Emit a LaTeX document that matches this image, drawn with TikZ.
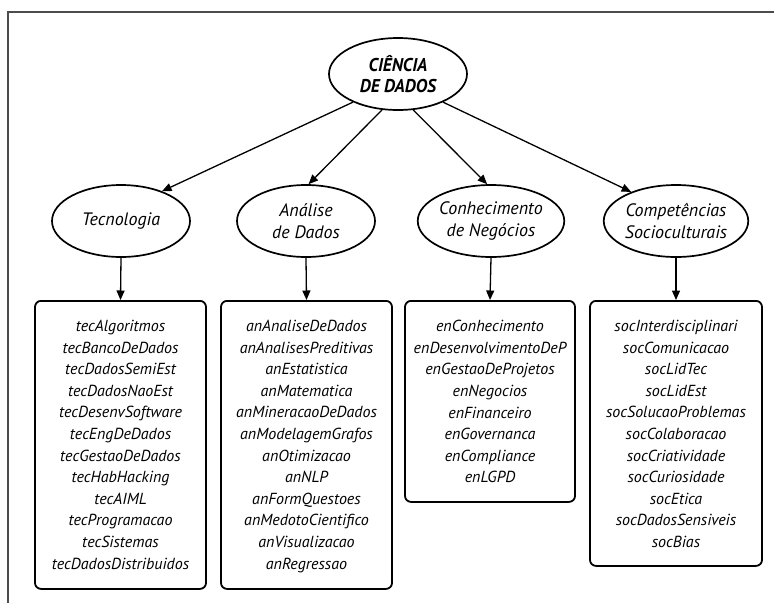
\documentclass[tikz,border=0pt]{standalone}
\usepackage{graphicx}
\usepackage{fontspec}
\setmainfont{PT Sans}
\usetikzlibrary{arrows.meta,shapes.geometric}
\begin{document}
\begin{tikzpicture}[x=1pt,y=-1pt,
  frameline/.style={draw=black!70, line width=1.2pt},
  conn/.style={line width=1.3pt, -{Triangle[length=9.5pt,width=8pt]}},
  bubble/.style={ellipse, draw, line width=1.7pt, minimum width=138pt,
    minimum height=72pt, inner sep=0pt, align=center},
  rootnode/.style={bubble, font=\fontsize{18.5}{21}\selectfont\bfseries\itshape},
  areanode/.style={bubble, font=\fontsize{18}{21.5}\selectfont\itshape},
  listbox/.style={draw, line width=1.8pt, rounded corners=6pt, anchor=north,
    minimum width=171pt, inner sep=0pt},
  listtext/.style={anchor=north, align=center, inner sep=0pt,
    font=\fontsize{16}{21.6}\selectfont\itshape},
]
\useasboundingbox (0,0) rectangle (774,603);
% open frame: top and left edges only
\draw[frameline] (774,12) -- (8,12) -- (8,603);

% root
\node[rootnode] (root) at (398,74)
  {\scalebox{0.95}[1]{CIÊNCIA}\\\scalebox{0.95}[1]{DE DADOS}};

% areas
\node[areanode] (tec) at (121,221) {Tecnologia};
\node[areanode] (an)  at (306,221) {Análise\\de Dados};
\node[areanode] (en)  at (491,221) {Conhecimento\\de Negócios};
\node[areanode] (soc) at (676,221) {Competências\\Socioculturais};

% lists
\node[listbox, minimum height=288pt] (tecbox) at (120.5,300) {};
\node[listbox, minimum height=288pt] (anbox) at (306.5,300) {};
\node[listbox, minimum height=201pt, minimum width=170pt] (enbox) at (490,300) {};
\node[listbox, minimum height=265pt, minimum width=172pt] (socbox) at (676,300) {};

\node[listtext] (tectext) at ([yshift=-20pt]tecbox.north) {tecAlgoritmos\\tecBancoDeDados\\tecDadosSemiEst\\tecDadosNaoEst\\tecDesenvSoftware\\tecEngDeDados\\tecGestaoDeDados\\tecHabHacking\\tecAIML\\tecProgramacao\\tecSistemas\\tecDadosDistribuidos};
\node[listtext] (antext) at ([yshift=-20pt]anbox.north) {anAnaliseDeDados\\anAnalisesPreditivas\\anEstatistica\\anMatematica\\anMineracaoDeDados\\anModelagemGrafos\\anOtimizacao\\anNLP\\anFormQuestoes\\anMedotoCientifico\\anVisualizacao\\anRegressao};
\node[listtext] (entext) at ([yshift=-20pt]enbox.north) {enConhecimento\\enDesenvolvimentoDeP\\enGestaoDeProjetos\\enNegocios\\enFinanceiro\\enGovernanca\\enCompliance\\enLGPD};
\node[listtext] (soctext) at ([yshift=-20pt]socbox.north) {socInterdisciplinari\\socComunicacao\\socLidTec\\socLidEst\\socSolucaoProblemas\\socColaboracao\\socCriatividade\\socCuriosidade\\socEtica\\socDadosSensiveis\\socBias};

% connectors
\draw[conn] (root.212) -- (tec.36);
\draw[conn] (root.246) -- (an.86);
\draw[conn] (root.293) -- (en.96);
\draw[conn] (root.328) -- (soc.147);
\draw[conn] (tec.south) -- (tecbox.north);
\draw[conn] (an.south) -- (anbox.north);
\draw[conn] (en.south) -- (enbox.north);
\draw[conn] (soc.south) -- (socbox.north);
\end{tikzpicture}
\end{document}
